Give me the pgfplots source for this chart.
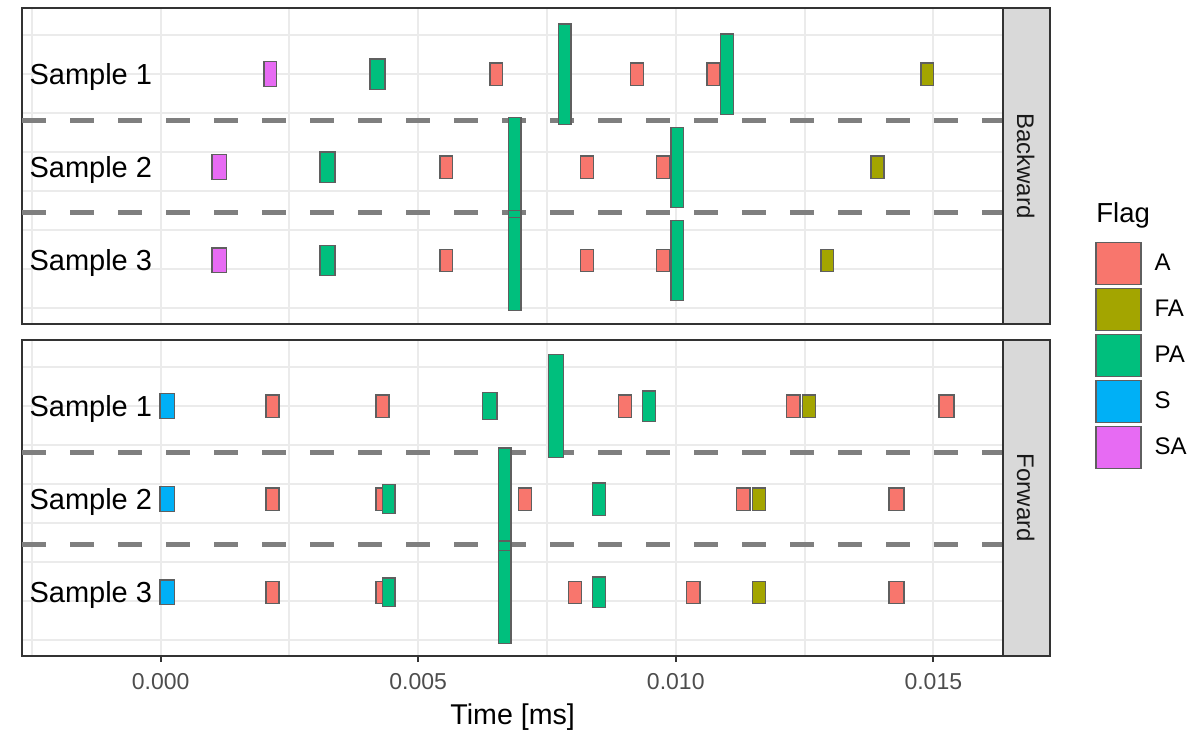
\documentclass[border=0pt]{standalone}
\usepackage{fontspec}
\setmainfont{Liberation Sans}
\usepackage{pgfplots}
\pgfplotsset{compat=1.18}
\definecolor{cA}{HTML}{F8766D}
\definecolor{cFA}{HTML}{A3A500}
\definecolor{cPA}{HTML}{00BF7D}
\definecolor{cS}{HTML}{00B0F6}
\definecolor{cSA}{HTML}{E76BF3}
\definecolor{gridc}{HTML}{EBEBEB}
\definecolor{borderc}{HTML}{333333}
\definecolor{tickc}{HTML}{4D4D4D}
\definecolor{stripc}{HTML}{D9D9D9}
\definecolor{dashc}{HTML}{7F7F7F}
\definecolor{rectb}{HTML}{5F5F5F}
\tikzset{slab/.style={anchor=east, inner sep=0pt, font=\fontsize{14.5}{16}\selectfont, yshift=-1.5pt}}
\pgfplotsset{
  panel/.style={
    scale only axis, width=490.65pt, height=157.8pt,
    xmin=-0.0026928, xmax=0.016359,
    ymin=0.29, ymax=3.68, y dir=reverse,
    clip=false,
    scaled x ticks=false,
    unbounded coords=jump,
    axis line style={draw=borderc, line width=0.9pt},
    xtick={0,0.005,0.01,0.015},
    minor xtick={-0.0025,0.0025,0.0075,0.0125},
    ytick={0.582,1,1.418,1.836,2.254,2.672,3.09,3.508},
    yticklabels={},
    ytick style={draw=none},
    minor tick length=0pt,
    xmajorgrids, xminorgrids, ymajorgrids,
    major grid style={draw=gridc, line width=1pt},
    minor grid style={draw=gridc, line width=1pt},
    tick align=outside,
    major tick length=3.3pt,
    xtick style={draw=borderc, line width=0.9pt},
    xticklabel style={font=\fontsize{11.5}{13}\selectfont, text=tickc},
    legend image code/.code={\draw[#1,draw=rectb,line width=0.6pt] (0pt,-10.5pt) rectangle (22.5pt,10.5pt);},
  },
  rct/.style={draw=rectb, line width=0.6pt, line cap=rect, line join=miter, mark=none},
  dashl/.style={draw=dashc, line width=2.65pt, dash pattern=on 12pt off 12pt, forget plot, mark=none},
}
\begin{document}
\begin{tikzpicture}
\useasboundingbox (0,0) rectangle (599.5pt,-366pt);
% ---------------- Backward ----------------
\begin{axis}[panel, at={(11pt,-4pt)}, anchor=north west, xticklabels={}, xtick style={draw=none}]
\addplot[dashl] coordinates {(-0.0026928,1.5) (0.016359,1.5)};
\addplot[dashl] coordinates {(-0.0026928,2.49) (0.016359,2.49)};
% A
\addplot[rct, fill=cA] coordinates {
(0.006393,0.88) (0.00664,0.88) (0.00664,1.12) (0.006393,1.12) (0.006393,0.88) (nan,nan)
(0.009117,0.88) (0.00937,0.88) (0.00937,1.12) (0.009117,1.12) (0.009117,0.88) (nan,nan)
(0.010606,0.88) (0.010859,0.88) (0.010859,1.12) (0.010606,1.12) (0.010606,0.88) (nan,nan)
(0.005423,1.88) (0.005669,1.88) (0.005669,2.12) (0.005423,2.12) (0.005423,1.88) (nan,nan)
(0.008154,1.88) (0.008399,1.88) (0.008399,2.12) (0.008154,2.12) (0.008154,1.88) (nan,nan)
(0.00963,1.88) (0.009888,1.88) (0.009888,2.12) (0.00963,2.12) (0.00963,1.88) (nan,nan)
(0.005423,2.88) (0.005669,2.88) (0.005669,3.12) (0.005423,3.12) (0.005423,2.88) (nan,nan)
(0.008154,2.88) (0.008399,2.88) (0.008399,3.12) (0.008154,3.12) (0.008154,2.88) (nan,nan)
(0.00963,2.88) (0.009888,2.88) (0.009888,3.12) (0.00963,3.12) (0.00963,2.88)
};
% FA
\addplot[rct, fill=cFA] coordinates {
(0.014761,0.88) (0.015008,0.88) (0.015008,1.12) (0.014761,1.12) (0.014761,0.88) (nan,nan)
(0.013791,1.88) (0.014043,1.88) (0.014043,2.12) (0.013791,2.12) (0.013791,1.88) (nan,nan)
(0.01282,2.88) (0.013066,2.88) (0.013066,3.12) (0.01282,3.12) (0.01282,2.88)
};
% PA
\addplot[rct, fill=cPA] coordinates {
(0.004064,0.837) (0.004355,0.837) (0.004355,1.163) (0.004064,1.163) (0.004064,0.837) (nan,nan)
(0.007727,0.462) (0.007966,0.462) (0.007966,1.538) (0.007727,1.538) (0.007727,0.462) (nan,nan)
(0.010872,0.57) (0.011117,0.57) (0.011117,1.43) (0.010872,1.43) (0.010872,0.57) (nan,nan)
(0.003093,1.837) (0.003384,1.837) (0.003384,2.163) (0.003093,2.163) (0.003093,1.837) (nan,nan)
(0.006756,1.462) (0.006995,1.462) (0.006995,2.538) (0.006756,2.538) (0.006756,1.462) (nan,nan)
(0.009907,1.57) (0.010146,1.57) (0.010146,2.43) (0.009907,2.43) (0.009907,1.57) (nan,nan)
(0.003093,2.837) (0.003384,2.837) (0.003384,3.163) (0.003093,3.163) (0.003093,2.837) (nan,nan)
(0.006756,2.462) (0.006995,2.462) (0.006995,3.538) (0.006756,3.538) (0.006756,2.462) (nan,nan)
(0.009907,2.57) (0.010146,2.57) (0.010146,3.43) (0.009907,3.43) (0.009907,2.57)
};
% SA
\addplot[rct, fill=cSA] coordinates {
(0.002006,0.867) (0.002252,0.867) (0.002252,1.133) (0.002006,1.133) (0.002006,0.867) (nan,nan)
(0.000996,1.867) (0.001281,1.867) (0.001281,2.133) (0.000996,2.133) (0.000996,1.867) (nan,nan)
(0.000996,2.867) (0.001281,2.867) (0.001281,3.133) (0.000996,3.133) (0.000996,2.867)
};
\node[slab] at (axis cs:-0.00016,1) {Sample 1};
\node[slab] at (axis cs:-0.00016,2) {Sample 2};
\node[slab] at (axis cs:-0.00016,3) {Sample 3};
\draw[fill=stripc, draw=borderc, line width=0.9pt] (rel axis cs:1,0) rectangle ([xshift=23.35pt]rel axis cs:1,1);
\node[rotate=-90, font=\fontsize{12}{14}\selectfont, text={black!90}] at ([xshift=11.2pt]rel axis cs:1,0.5) {Backward};
\end{axis}
% ---------------- Forward ----------------
\begin{axis}[panel, at={(11pt,-170pt)}, anchor=north west,
  xtick pos=lower,
  xticklabels={0.000,0.005,0.010,0.015},
  xticklabel shift=2pt,
  xlabel={Time [ms]},
  xlabel style={font=\fontsize{14.3}{16}\selectfont},
  legend style={at={(axis description cs:1.0934,1.311)}, anchor=north west, draw=none, fill=none,
     inner sep=0pt, row sep=1.4pt, column sep=6.5pt, font=\fontsize{12}{14}\selectfont,
     nodes={inner sep=0pt, anchor=west}},
  legend cell align=left,
  legend entries={A,FA,PA,S,SA},
]
\addplot[dashl] coordinates {(-0.0026928,1.5) (0.016359,1.5)};
\addplot[dashl] coordinates {(-0.0026928,2.49) (0.016359,2.49)};
% A
\addplot[rct, fill=cA] coordinates {
(0.002044,0.88) (0.002297,0.88) (0.002297,1.12) (0.002044,1.12) (0.002044,0.88) (nan,nan)
(0.00418,0.88) (0.004432,0.88) (0.004432,1.12) (0.00418,1.12) (0.00418,0.88) (nan,nan)
(0.008892,0.88) (0.009145,0.88) (0.009145,1.12) (0.008892,1.12) (0.008892,0.88) (nan,nan)
(0.012154,0.88) (0.012412,0.88) (0.012412,1.12) (0.012154,1.12) (0.012154,0.88) (nan,nan)
(0.015111,0.88) (0.015402,0.88) (0.015402,1.12) (0.015111,1.12) (0.015111,0.88) (nan,nan)
(0.002044,1.88) (0.002297,1.88) (0.002297,2.12) (0.002044,2.12) (0.002044,1.88) (nan,nan)
(0.00418,1.88) (0.004432,1.88) (0.004432,2.12) (0.00418,2.12) (0.00418,1.88) (nan,nan)
(0.006943,1.88) (0.007195,1.88) (0.007195,2.12) (0.006943,2.12) (0.006943,1.88) (nan,nan)
(0.011183,1.88) (0.011441,1.88) (0.011441,2.12) (0.011183,2.12) (0.011183,1.88) (nan,nan)
(0.01414,1.88) (0.014431,1.88) (0.014431,2.12) (0.01414,2.12) (0.01414,1.88) (nan,nan)
(0.002044,2.88) (0.002297,2.88) (0.002297,3.12) (0.002044,3.12) (0.002044,2.88) (nan,nan)
(0.00418,2.88) (0.004432,2.88) (0.004432,3.12) (0.00418,3.12) (0.00418,2.88) (nan,nan)
(0.007921,2.88) (0.008166,2.88) (0.008166,3.12) (0.007921,3.12) (0.007921,2.88) (nan,nan)
(0.010212,2.88) (0.010471,2.88) (0.010471,3.12) (0.010212,3.12) (0.010212,2.88) (nan,nan)
(0.01414,2.88) (0.014431,2.88) (0.014431,3.12) (0.01414,3.12) (0.01414,2.88)
};
% FA
\addplot[rct, fill=cFA] coordinates {
(0.012457,0.88) (0.012717,0.88) (0.012717,1.12) (0.012457,1.12) (0.012457,0.88) (nan,nan)
(0.011494,1.88) (0.011746,1.88) (0.011746,2.12) (0.011494,2.12) (0.011494,1.88) (nan,nan)
(0.011494,2.88) (0.011746,2.88) (0.011746,3.12) (0.011494,3.12) (0.011494,2.88)
};
% PA
\addplot[rct, fill=cPA] coordinates {
(0.006244,0.857) (0.006529,0.857) (0.006529,1.143) (0.006244,1.143) (0.006244,0.857) (nan,nan)
(0.007533,0.45) (0.007817,0.45) (0.007817,1.55) (0.007533,1.55) (0.007533,0.45) (nan,nan)
(0.009358,0.837) (0.00961,0.837) (0.00961,1.163) (0.009358,1.163) (0.009358,0.837) (nan,nan)
(0.004302,1.846) (0.004549,1.846) (0.004549,2.154) (0.004302,2.154) (0.004302,1.846) (nan,nan)
(0.006562,1.45) (0.006801,1.45) (0.006801,2.55) (0.006562,2.55) (0.006562,1.45) (nan,nan)
(0.008387,1.826) (0.00864,1.826) (0.00864,2.174) (0.008387,2.174) (0.008387,1.826) (nan,nan)
(0.004302,2.846) (0.004549,2.846) (0.004549,3.154) (0.004302,3.154) (0.004302,2.846) (nan,nan)
(0.006562,2.45) (0.006801,2.45) (0.006801,3.55) (0.006562,3.55) (0.006562,2.45) (nan,nan)
(0.008387,2.835) (0.00864,2.835) (0.00864,3.165) (0.008387,3.165) (0.008387,2.835)
};
% S
\addplot[rct, fill=cS] coordinates {
(-0.000014,0.867) (0.000272,0.867) (0.000272,1.133) (-0.000014,1.133) (-0.000014,0.867) (nan,nan)
(-0.000014,1.867) (0.000272,1.867) (0.000272,2.133) (-0.000014,2.133) (-0.000014,1.867) (nan,nan)
(-0.000014,2.867) (0.000272,2.867) (0.000272,3.133) (-0.000014,3.133) (-0.000014,2.867)
};
\addlegendimage{rct, fill=cSA}
\node[slab] at (axis cs:-0.00016,1) {Sample 1};
\node[slab] at (axis cs:-0.00016,2) {Sample 2};
\node[slab] at (axis cs:-0.00016,3) {Sample 3};
\draw[fill=stripc, draw=borderc, line width=0.9pt] (rel axis cs:1,0) rectangle ([xshift=23.35pt]rel axis cs:1,1);
\node[rotate=-90, font=\fontsize{12}{14}\selectfont, text={black!90}] at ([xshift=11.2pt]rel axis cs:1,0.5) {Forward};
\node[anchor=base west, inner sep=0pt, font=\fontsize{13.75}{15}\selectfont] at (axis description cs:1.0945,1.3734) {Flag};
\end{axis}
\end{tikzpicture}
\end{document}
